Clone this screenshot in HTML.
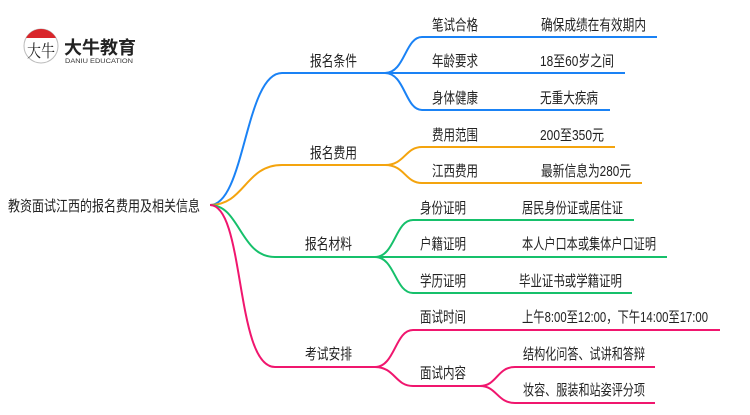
<!DOCTYPE html>
<html><head><meta charset="utf-8"><style>
body{margin:0;background:#fff;}
svg text{font-family:"Liberation Sans","Noto Sans CJK SC",sans-serif;font-size:15px;fill:#222;}
</style></head><body>
<svg width="750" height="410" viewBox="0 0 750 410" xmlns="http://www.w3.org/2000/svg">
<!-- logo -->
<circle cx="41" cy="46" r="17" fill="#fff" stroke="#bbb" stroke-width="1"/>
<path d="M26,38 A17,17 0 0 1 56,38 Z" fill="#d9262b"/>
<text x="27" y="57" textLength="28" lengthAdjust="spacingAndGlyphs" style="font-size:17px;font-family:'Noto Serif CJK SC',serif;fill:#222">大牛</text>
<text x="64" y="54" textLength="72" lengthAdjust="spacingAndGlyphs" style="font-size:18px;font-weight:bold;fill:#222">大牛教育</text>
<text x="65" y="63" textLength="68" lengthAdjust="spacingAndGlyphs" style="font-size:6px;fill:#333">DANIU EDUCATION</text>

<g fill="none" stroke-width="2">
<g stroke="#1a82f5">
<path d="M210,205 C245,205 245,73 282,73 L388,73"/>
<path d="M385,73 C405,73 405,37 422,37 L657,37"/>
<path d="M385,73 L625,73"/>
<path d="M385,73 C405,73 405,110 422,110 L610,110"/>
</g>
<g stroke="#f4a40e">
<path d="M210,205 C245,205 245,165 282,165 L388,165"/>
<path d="M385,165 C405,165 405,147 422,147 L615,147"/>
<path d="M385,165 C405,165 405,183 422,183 L642,183"/>
</g>
<g stroke="#16c06b">
<path d="M210,205 C240,205 240,257 275,257 L378,257"/>
<path d="M375,257 C395,257 395,220 413,220 L634,220"/>
<path d="M375,257 L667,257"/>
<path d="M375,257 C395,257 395,293 413,293 L632,293"/>
</g>
<g stroke="#f0166e">
<path d="M210,205 C245,205 235,367 275,367 L378,367"/>
<path d="M375,367 C395,367 395,330 413,330 L720,330"/>
<path d="M375,367 C395,367 395,386 413,386 L482,386"/>
<path d="M480,386 C497,386 497,367 515,367 L655,367"/>
<path d="M480,386 C497,386 497,403 515,403 L655,403"/>
</g>
</g>

<g lengthAdjust="spacingAndGlyphs">
<text x="8" y="211" textLength="192" lengthAdjust="spacingAndGlyphs">教资面试江西的报名费用及相关信息</text>
<text x="310" y="66" textLength="47" lengthAdjust="spacingAndGlyphs">报名条件</text>
<text x="310" y="158" textLength="47" lengthAdjust="spacingAndGlyphs">报名费用</text>
<text x="305" y="249" textLength="47" lengthAdjust="spacingAndGlyphs">报名材料</text>
<text x="305" y="359" textLength="47" lengthAdjust="spacingAndGlyphs">考试安排</text>

<text x="432" y="30" textLength="46" lengthAdjust="spacingAndGlyphs">笔试合格</text><text x="541" y="30" textLength="105" lengthAdjust="spacingAndGlyphs">确保成绩在有效期内</text>
<text x="432" y="66" textLength="46" lengthAdjust="spacingAndGlyphs">年龄要求</text><text x="540" y="66" textLength="74" lengthAdjust="spacingAndGlyphs">18至60岁之间</text>
<text x="432" y="103" textLength="46" lengthAdjust="spacingAndGlyphs">身体健康</text><text x="540" y="103" textLength="58" lengthAdjust="spacingAndGlyphs">无重大疾病</text>
<text x="432" y="140" textLength="46" lengthAdjust="spacingAndGlyphs">费用范围</text><text x="540" y="140" textLength="64" lengthAdjust="spacingAndGlyphs">200至350元</text>
<text x="432" y="176" textLength="46" lengthAdjust="spacingAndGlyphs">江西费用</text><text x="541" y="176" textLength="90" lengthAdjust="spacingAndGlyphs">最新信息为280元</text>
<text x="420" y="213" textLength="46" lengthAdjust="spacingAndGlyphs">身份证明</text><text x="522" y="213" textLength="101" lengthAdjust="spacingAndGlyphs">居民身份证或居住证</text>
<text x="420" y="249" textLength="46" lengthAdjust="spacingAndGlyphs">户籍证明</text><text x="522" y="249" textLength="134" lengthAdjust="spacingAndGlyphs">本人户口本或集体户口证明</text>
<text x="420" y="286" textLength="46" lengthAdjust="spacingAndGlyphs">学历证明</text><text x="519" y="286" textLength="103" lengthAdjust="spacingAndGlyphs">毕业证书或学籍证明</text>
<text x="420" y="322" textLength="46" lengthAdjust="spacingAndGlyphs">面试时间</text><text x="522" y="322" textLength="186" lengthAdjust="spacingAndGlyphs">上午8:00至12:00，下午14:00至17:00</text>
<text x="420" y="378" textLength="46" lengthAdjust="spacingAndGlyphs">面试内容</text>
<text x="523" y="359" textLength="122" lengthAdjust="spacingAndGlyphs">结构化问答、试讲和答辩</text>
<text x="523" y="395" textLength="122" lengthAdjust="spacingAndGlyphs">妆容、服装和站姿评分项</text>
</g>
</svg>
</body></html>
